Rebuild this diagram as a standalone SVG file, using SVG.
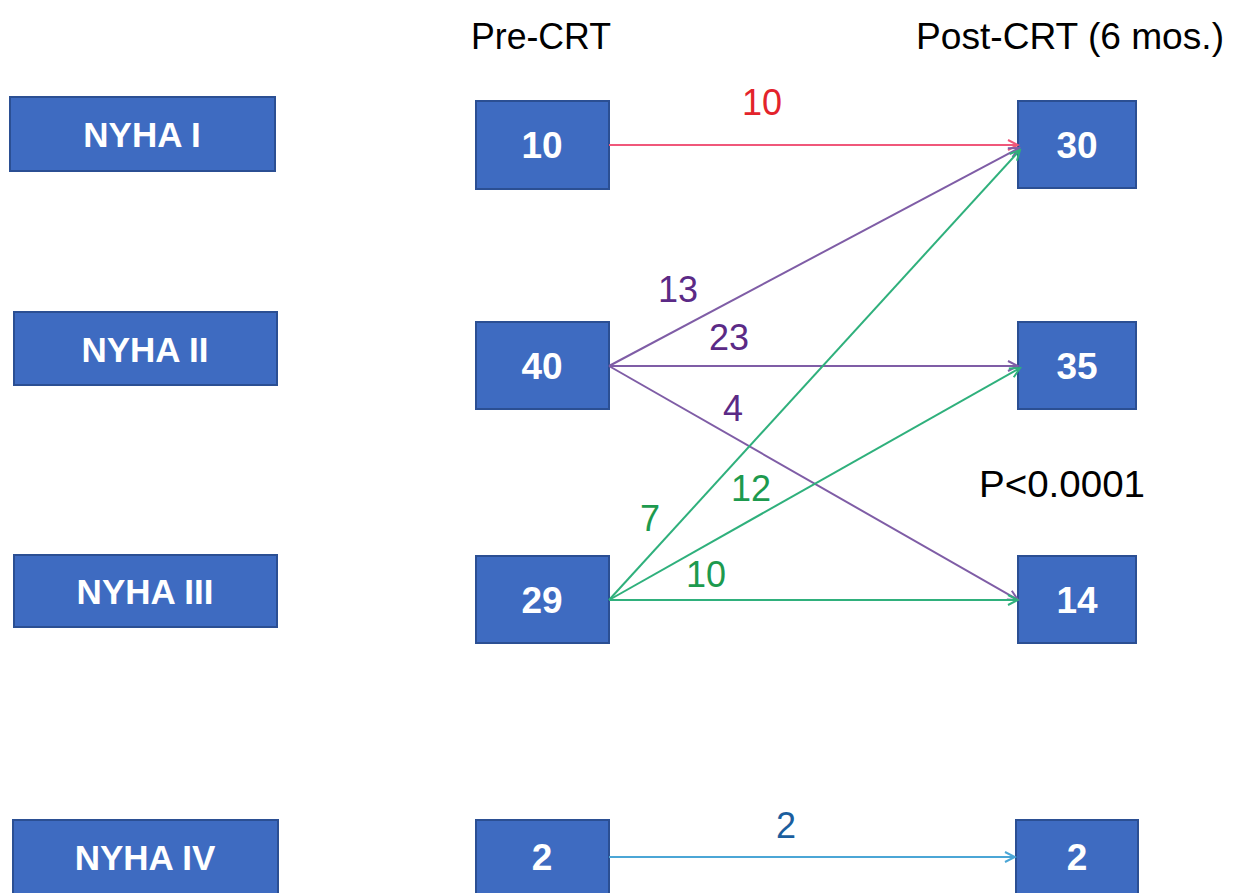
<svg xmlns="http://www.w3.org/2000/svg" width="1244" height="893" viewBox="0 0 1244 893">
<style>
.box{fill:#3E6BC1;stroke:#2B4F93;stroke-width:2}
.bt{font-family:"Liberation Sans",Arial,sans-serif;font-weight:bold;font-size:35px;fill:#fff;text-anchor:middle;dominant-baseline:central}
.nt{font-family:"Liberation Sans",Arial,sans-serif;font-weight:bold;font-size:37px;fill:#fff;text-anchor:middle;dominant-baseline:central}
.hd{font-family:"Liberation Sans",Arial,sans-serif;font-size:36px;fill:#000;text-anchor:middle}
.lb{font-family:"Liberation Sans",Arial,sans-serif;font-size:36px;text-anchor:middle}
.c{fill:none;stroke-width:2}
</style>
<defs>
<marker id="mr" markerWidth="14" markerHeight="14" refX="12" refY="7" orient="auto" markerUnits="userSpaceOnUse"><path d="M2,2 L12,7 L2,12" fill="none" stroke="#F0577A" stroke-width="2"/></marker>
<marker id="mp" markerWidth="14" markerHeight="14" refX="12" refY="7" orient="auto" markerUnits="userSpaceOnUse"><path d="M2,2 L12,7 L2,12" fill="none" stroke="#7F5DA6" stroke-width="2"/></marker>
<marker id="mg" markerWidth="14" markerHeight="14" refX="12" refY="7" orient="auto" markerUnits="userSpaceOnUse"><path d="M2,2 L12,7 L2,12" fill="none" stroke="#2FB07C" stroke-width="2"/></marker>
<marker id="mb" markerWidth="14" markerHeight="14" refX="12" refY="7" orient="auto" markerUnits="userSpaceOnUse"><path d="M2,2 L12,7 L2,12" fill="none" stroke="#4BA6D6" stroke-width="2"/></marker>
</defs>
<rect width="1244" height="893" fill="#fff"/>
<text class="hd" x="541" y="49" textLength="140" lengthAdjust="spacingAndGlyphs">Pre-CRT</text>
<text class="hd" x="1070" y="49" textLength="308" lengthAdjust="spacingAndGlyphs">Post-CRT (6 mos.)</text>
<g id="nyha1"><rect class="box" x="10" y="97" width="265" height="74"/><text class="bt" x="142" y="134">NYHA I</text></g>
<g id="nyha2"><rect class="box" x="14" y="312" width="263" height="73"/><text class="bt" x="145" y="349">NYHA II</text></g>
<g id="nyha3"><rect class="box" x="14" y="555" width="263" height="72"/><text class="bt" x="145" y="591">NYHA III</text></g>
<g id="nyha4"><rect class="box" x="13" y="820" width="265" height="80"/><text class="bt" x="145" y="857">NYHA IV</text></g>
<g id="pre10"><rect class="box" x="476" y="101" width="133" height="88"/><text class="nt" x="542" y="145">10</text></g>
<g id="pre40"><rect class="box" x="476" y="322" width="133" height="87"/><text class="nt" x="542" y="366">40</text></g>
<g id="pre29"><rect class="box" x="476" y="556" width="133" height="87"/><text class="nt" x="542" y="600">29</text></g>
<g id="pre2"><rect class="box" x="476" y="820" width="133" height="80"/><text class="nt" x="542" y="857">2</text></g>
<g id="post30"><rect class="box" x="1018" y="101" width="118" height="87"/><text class="nt" x="1077" y="145">30</text></g>
<g id="post35"><rect class="box" x="1018" y="322" width="118" height="87"/><text class="nt" x="1077" y="366">35</text></g>
<g id="post14"><rect class="box" x="1018" y="556" width="118" height="87"/><text class="nt" x="1077" y="600">14</text></g>
<g id="post2"><rect class="box" x="1016" y="820" width="122" height="80"/><text class="nt" x="1077" y="857">2</text></g>
<g id="connectors">
<line class="c" x1="609" y1="145" x2="1018" y2="145" stroke="#F0577A" marker-end="url(#mr)"/>
<line class="c" x1="609" y1="366" x2="1019" y2="148" stroke="#7F5DA6" marker-end="url(#mp)"/>
<line class="c" x1="609" y1="366" x2="1018" y2="366" stroke="#7F5DA6" marker-end="url(#mp)"/>
<line class="c" x1="609" y1="366" x2="1018" y2="600" stroke="#7F5DA6" marker-end="url(#mp)"/>
<line class="c" x1="609" y1="600" x2="1020" y2="150" stroke="#2FB07C" marker-end="url(#mg)"/>
<line class="c" x1="609" y1="600" x2="1020" y2="368" stroke="#2FB07C" marker-end="url(#mg)"/>
<line class="c" x1="609" y1="600" x2="1018" y2="600" stroke="#2FB07C" marker-end="url(#mg)"/>
<line class="c" x1="609" y1="857" x2="1015" y2="857" stroke="#4BA6D6" marker-end="url(#mb)"/>
<text class="lb" x="762" y="115" fill="#E3232B">10</text>
<text class="lb" x="678" y="302" fill="#5B2A86">13</text>
<text class="lb" x="729" y="350" fill="#5B2A86">23</text>
<text class="lb" x="733" y="421" fill="#5B2A86">4</text>
<text class="lb" x="650" y="531" fill="#1D9A4E">7</text>
<text class="lb" x="751" y="501" fill="#1D9A4E">12</text>
<text class="lb" x="706" y="587" fill="#1D9A4E">10</text>
<text class="lb" x="786" y="838" fill="#1B5E9E">2</text>
</g>
<text class="hd" x="1062" y="497" textLength="166" lengthAdjust="spacingAndGlyphs">P&lt;0.0001</text>
</svg>
